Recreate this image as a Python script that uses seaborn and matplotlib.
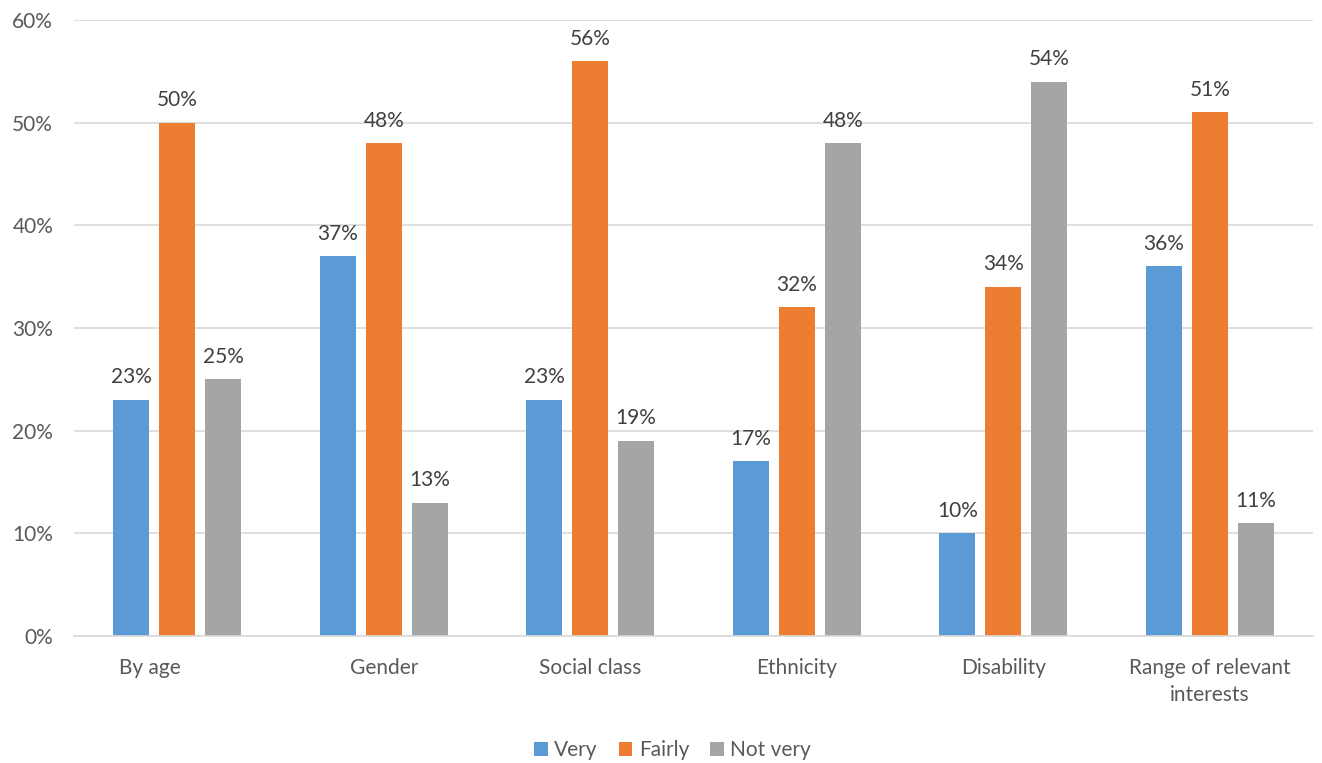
import matplotlib
matplotlib.use("Agg")
import matplotlib.pyplot as plt
import matplotlib.transforms as mtransforms
import seaborn as sns
import pandas as pd
from matplotlib.ticker import PercentFormatter

categories = ["By age", "Gender", "Social class", "Ethnicity", "Disability",
              "Range of relevant\ninterests"]
series_names = ["Very", "Fairly", "Not very"]
very = [23, 37, 23, 17, 10, 36]
fairly = [50, 48, 56, 32, 34, 51]
not_very = [25, 13, 19, 48, 54, 11]
colors = ["#5B9BD5", "#ED7D31", "#A5A5A5"]

rows = []
for name, vals in zip(series_names, [very, fairly, not_very]):
    for c, v in zip(categories, vals):
        rows.append({"cat": c, "series": name, "val": v})
df = pd.DataFrame(rows)

sns.set_theme(style="white")
plt.rcParams["font.family"] = ["Lato", "DejaVu Sans"]

FS = 15
fig = plt.figure(figsize=(13.22, 7.63), dpi=100)
ax = fig.add_axes([74 / 1322, 127 / 763, 1239 / 1322, 616 / 763])
sns.barplot(data=df, x="cat", y="val", hue="series", order=categories,
            hue_order=series_names, palette=colors, width=0.667, gap=0.22,
            saturation=1, linewidth=0, edgecolor="none", ax=ax, legend=True)

for cont in ax.containers:
    ax.bar_label(cont, labels=[f"{int(round(v))}%" for v in cont.datavalues],
                 padding=9, fontsize=FS, color="#404040")

ax.set_ylim(0, 60)
ax.set_yticks(range(0, 61, 10))
ax.yaxis.set_major_formatter(PercentFormatter(decimals=0))
ax.yaxis.grid(True, color="#D9D9D9", linewidth=1.2)
ax.set_axisbelow(True)
ax.set_xlim(-0.5, 5.5)
for s in ["top", "right", "left"]:
    ax.spines[s].set_visible(False)
ax.spines["bottom"].set_color("#D9D9D9")
ax.spines["bottom"].set_linewidth(1.2)
ax.tick_params(axis="both", labelsize=FS, colors="#595959", length=0)
ax.tick_params(axis="x", pad=16)
ax.tick_params(axis="y", pad=15)
ax.set_xlabel("")
ax.set_ylabel("")

for lab in ax.get_xticklabels():
    lab.set_linespacing(1.45)

# first category label sits left of its group in the reference
first = ax.get_xticklabels()[0]
first.set_transform(first.get_transform() +
                    mtransforms.ScaledTranslation(-27 / 100, 0, fig.dpi_scale_trans))

handles, labels = ax.get_legend_handles_labels()
ax.legend(handles, labels, loc="center", bbox_to_anchor=(0.483, -0.185),
          ncol=3, frameon=False, fontsize=FS, handlelength=0.67, handleheight=0.67,
          columnspacing=1.0, handletextpad=0.3, labelcolor="#595959")

fig.savefig("out.png", dpi=100)
